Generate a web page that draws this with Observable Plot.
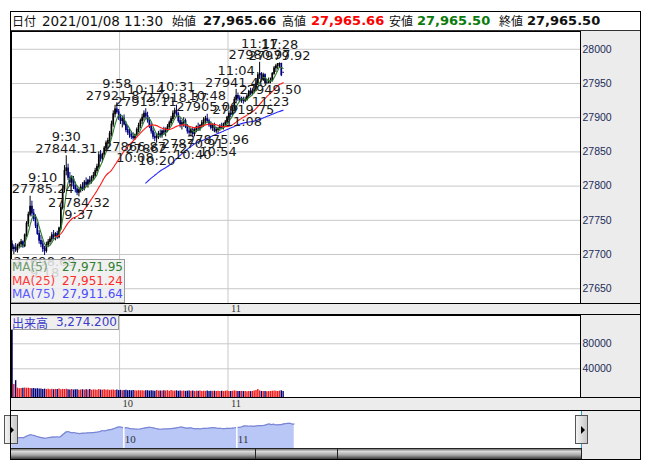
<!DOCTYPE html>
<html><head><meta charset="utf-8">
<script src="https://cdn.jsdelivr.net/npm/d3@7"></script>
<script src="https://cdn.jsdelivr.net/npm/@observablehq/plot@0.6"></script>
<style>
body{margin:0;background:#fff;}
#root{position:relative;width:653px;height:470px;overflow:hidden;font-family:"DejaVu Sans",sans-serif;}
#root>*{position:absolute;}
.cjk{font-family:"Noto Sans CJK JP",sans-serif;}
</style></head><body><div id="root"></div>
<script>
// ---------------- DATA ----------------
const sessionStart = "9:00";
const opens = [27715,27708,27710,27706,27712,27715,27718,27712,27728,27745,
27758,27770,27760,27752,27742,27730,27720,27715,27708,27705,
27714,27718,27722,27728,27726,27730,27725,27738,27768,27795,
27822,27826,27812,27805,27810,27800,27795,27790,27794,27798,
27796,27805,27802,27808,27806,27812,27815,27822,27828,27845,
27840,27846,27855,27862,27866,27876,27890,27905,27912,27908,
27900,27895,27898,27890,27882,27878,27875,27872,27870,27874,
27882,27888,27895,27900,27906,27902,27896,27888,27880,27872,
27870,27872,27876,27874,27880,27878,27883,27886,27892,27898,
27906,27910,27905,27895,27890,27892,27895,27886,27880,27878,
27882,27876,27882,27886,27884,27888,27892,27896,27898,27895,
27889,27885,27888,27880,27882,27884,27887,27885,27890,27893,
27900,27906,27904,27912,27926,27932,27928,27925,27927,27924,
27926,27931.25,27938,27936,27938,27940,27950,27962,27964,27955,
27962,27950,27950,27953,27954,27964,27972,27975,27978.5,27978.75,
27965.66];
const highs = [27720,27714,27716,27715,27718,27722,27720,27730,27748,27762,
27785.24,27778,27766,27758,27746,27735,27728,27720,27712,27718,
27722,27726,27732,27735,27732,27734,27740,27772,27800,27830,
27844.31,27832,27820,27815,27814,27806,27800,27796,27802,27805,
27808,27812,27810,27814,27815,27820,27826,27832,27850,27852,
27848,27858,27866,27870,27880,27895,27910,27918,27921.87,27912,
27905,27902,27904,27894,27888,27884,27880,27878,27876,27885,
27892,27898,27905,27910,27913.11,27908,27900,27892,27885,27878,
27876,27880,27882,27882,27886,27885,27890,27895,27902,27910,
27914,27918.37,27908,27900,27896,27900,27898,27890,27885,27884,
27886,27884,27888,27892,27890,27896,27900,27902,27905.06,27898,
27894,27890,27892,27886,27886,27890,27892,27892,27896,27902,
27910,27912,27915,27930,27941.40,27936,27932,27930,27930,27930,
27935,27940,27943,27942,27946,27955,27966,27980.97,27966,27965,
27964,27956,27958,27958,27966,27975,27978,27979,27979.92,27979.5,
27965.66];
const lows = [27704,27700,27703,27702,27708,27710,27709,27710,27725,27740,
27755,27755,27748,27738,27728,27715,27710,27703,27698.69,27702,
27710,27714,27718,27722,27720,27722,27723,27735,27765,27790,
27815,27808,27800,27798,27795,27790,27786,27784.32,27790,27792,
27793,27798,27797,27802,27803,27808,27812,27818,27825,27835,
27834,27842,27850,27855,27862,27872,27886,27900,27905,27896,
27890,27885,27888,27878,27874,27870,27868,27867,27866.87,27872,
27878,27884,27890,27895,27898,27892,27884,27876,27868,27865,
27862.72,27868,27870,27870,27874,27872,27878,27882,27888,27894,
27900,27902,27892,27885,27882,27886,27884,27876,27872,27872,
27870.91,27872,27878,27880,27880,27884,27886,27890,27892,27886,
27882,27880,27878,27877,27875.96,27880,27883,27882,27886,27890,
27896,27900,27902,27910,27922,27924,27922,27921,27919.75,27922,
27924,27928,27932,27932,27935,27938,27948,27956,27952,27953,
27950,27950,27950,27949.50,27952,27962,27966,27970,27972,27960,
27965.50];
const closes = [27708,27710,27706,27712,27715,27718,27712,27728,27745,27758,
27770,27760,27752,27742,27730,27720,27715,27708,27705,27714,
27718,27722,27728,27726,27730,27725,27738,27768,27795,27822,
27826,27812,27805,27810,27800,27795,27790,27794,27798,27796,
27805,27802,27808,27806,27812,27815,27822,27828,27845,27840,
27846,27855,27862,27866,27876,27890,27905,27912,27908,27900,
27895,27898,27890,27882,27878,27875,27872,27870,27874,27882,
27888,27895,27900,27906,27902,27896,27888,27880,27872,27870,
27872,27876,27874,27880,27878,27883,27886,27892,27898,27906,
27910,27905,27895,27890,27892,27895,27886,27880,27878,27882,
27876,27882,27886,27884,27888,27892,27896,27898,27895,27889,
27885,27888,27880,27882,27884,27887,27885,27890,27893,27900,
27906,27904,27912,27926,27932,27928,27925,27927,27924,27926,
27931.25,27938,27936,27938,27940,27950,27962,27964,27955,27962,
27950,27950,27953,27954,27964,27972,27975,27978.5,27978.75,27962,
27965.50];
const volumes = [130000,15000,21000,9000,8000,8500,9000,9200,8800,9000,
8500,8000,8600,7800,8200,7600,7800,7000,7500,6800,
7200,6600,7400,6500,7000,6800,7600,6400,7000,6800,
7200,6600,6200,6900,6000,6400,6600,5800,6200,6500,
5900,6400,6000,7000,5600,6200,6000,5800,6800,6000,
5800,6300,5600,6000,5500,5800,6200,5400,5900,5200,
5600,5000,5400,5800,5000,5200,4800,5300,5000,4600,
5000,4800,5000,4500,4700,5000,4400,4800,4600,4200,
5200,4400,4600,4300,4800,4500,5000,4200,5400,4600,
4300,4800,4000,4400,4200,4600,3900,4300,4500,4000,
4400,3800,4200,4000,4500,3800,4100,3900,4400,3700,
4000,3800,4200,3600,3900,3700,4100,3600,3900,4300,
3800,3600,4000,4600,4200,3700,3500,3900,3600,3800,
3400,3700,3500,3900,4400,5200,6800,4600,3800,3500,
3700,3300,3600,3800,4000,4600,4200,3800,4400,4800,
3600];
const peakTimes  = ["9:10","9:30","9:58","10:14","10:31","10:48","11:04","11:17","11:28"];
const peakValues = ["27785.24","27844.31","27921.87","27913.11","27918.37","27905.06","27941.40","27980.97","27979.92"];
const troughTimes  = ["9:18","9:37","10:08","10:20","10:40","10:54","11:08","11:23"];
const troughValues = ["27698.69","27784.32","27866.87","27862.72","27870.91","27875.96","27919.75","27949.50"];
const priceTicks = [27650,27700,27750,27800,27850,27900,27950,28000];
const volumeTicks = [40000,80000];
const hourTicks = ["10","11"];
const maNames = ["MA(5)","MA(25)","MA(75)"];
const maPeriods = [5,25,75];
const maLegendValues = ["27,971.95","27,951.24","27,911.64"];
const volumeLabel = "出来高";
const volumeLegendValue = "3,274.200";
const headerLabels = ["日付","始値","高値","安値","終値"];
const headerDate = "2021/01/08 11:30";
const headerValues = ["27,965.66","27,965.66","27,965.50","27,965.50"];

// ---------------- HELPERS ----------------
const toMin = t => { const [h, m] = t.split(":").map(Number); const [h0, m0] = sessionStart.split(":").map(Number); return (h - h0) * 60 + (m - m0); };
const hourMin = hourTicks.map(h => toMin(h + ":00") - 0.5);   // slot boundary (left edge of the hour's first bar)
const rows = opens.map((o, i) => ({m: i, o, h: highs[i], l: lows[i], c: closes[i], v: volumes[i], up: closes[i] >= o}));
const maColors = ["#2f7f2f", "#ff1a1a", "#2a2aff"];
const maSeries = maPeriods.map(k => rows.slice(k - 1).map(d => ({m: d.m, v: d3.mean(closes.slice(d.m - k + 1, d.m + 1))})));
const xDomain = [-0.3, 314.55];
const pxPerMin = 569 / (xDomain[1] - xDomain[0]);
// keep a label block inside the frame: shift its centre right when it would cross the left edge
const labelX = d => Math.max(d.m, xDomain[0] + (d.s.length * 3.9) / pxPerMin);
const peaks = peakTimes.map((t, i) => ({m: toMin(t), t, p: +peakValues[i], s: peakValues[i]}));
const troughs = troughTimes.map((t, i) => ({m: toMin(t), t, p: +troughValues[i], s: troughValues[i]}));

const root = document.getElementById("root");
function box(css, html = "", cls = "") { const d = document.createElement("div"); d.style.cssText = css; d.innerHTML = html; if (cls) d.className = cls; root.appendChild(d); return d; }
function place(el, left, top) { el.style.position = "absolute"; el.style.left = left + "px"; el.style.top = top + "px"; root.appendChild(el); }

const GRID = "#c8c8c8", PANEL = "#ececec";
// backgrounds
box(`left:580px;top:31px;width:61px;height:429px;background:${PANEL};`);
box(`left:10px;top:303px;width:631px;height:12px;background:${PANEL};border-top:1px solid #000;border-bottom:1px solid #000;box-sizing:border-box;`);
box(`left:10px;top:397px;width:631px;height:14px;background:${PANEL};border-top:1px solid #000;border-bottom:1px solid #000;box-sizing:border-box;`);

// ---------------- MAIN PRICE CHART ----------------
const textFont = "DejaVu Sans";
const annot = (data, field, dy) => Plot.text(data, {x: labelX, y: "p", text: field, dy, fontSize: 13, fontFamily: textFont, fill: "#1a1a1a"});
const main = Plot.plot({
  width: 631, height: 285, marginLeft: 1, marginRight: 61, marginTop: 0, marginBottom: 13,
  style: {background: "transparent", overflow: "visible", fontFamily: "Liberation Sans"},
  x: {domain: xDomain},
  y: {domain: [27628.4, 28026]},
  color: {type: "identity"},
  marks: [
    Plot.ruleY(priceTicks, {stroke: GRID}),
    Plot.ruleX(hourMin, {stroke: GRID}),
    Plot.ruleX(rows, {x: "m", y1: "l", y2: "h", stroke: d => d.up ? "#000000" : "#00007f", strokeWidth: 1, clip: true}),
    Plot.ruleX(rows, {x: "m", y1: d => Math.min(d.o, d.c) - 0.6, y2: d => Math.max(d.o, d.c) + 0.6, stroke: d => d.up ? "#000000" : "#00007f", strokeWidth: 1.7, clip: true}),
    ...maSeries.map((s, i) => Plot.lineY(s, {x: "m", y: "v", stroke: maColors[i], strokeWidth: 1.1, curve: "monotone-x", clip: true})),
    annot(peaks, "t", -18.5),
    annot(peaks, "s", -7),
    annot(troughs, "s", 6),
    annot(troughs, "t", 17.7),
    Plot.axisY(priceTicks, {anchor: "right", tickSize: 0, tickPadding: 2, tickFormat: d3.format("d"), fontSize: 10.5, fill: "#1c2b5a", label: null}),
    Plot.axisX(hourMin, {anchor: "bottom", tickSize: 0, tickPadding: 1, tickFormat: (d, i) => hourTicks[i], textAnchor: "start", dx: 3, fontSize: 10.5, fill: "#333", fontFamily: "Liberation Serif", label: null}),
    Plot.frame({stroke: "#000"})
  ]
});
place(main, 10, 31);

// ---------------- VOLUME CHART ----------------
const volDomain = [-5920, 125280];
const vol = Plot.plot({
  width: 631, height: 95, marginLeft: 1, marginRight: 61, marginTop: 0, marginBottom: 13,
  style: {background: "transparent", overflow: "visible", fontFamily: "Liberation Sans"},
  x: {domain: xDomain},
  y: {domain: volDomain},
  color: {type: "identity"},
  marks: [
    Plot.ruleY(volumeTicks, {stroke: GRID}),
    Plot.ruleX(hourMin, {stroke: GRID}),
    Plot.ruleX(rows, {x: "m", y1: () => volDomain[0], y2: "v", stroke: d => d.up ? "#f01818" : "#00007a", strokeWidth: 1.4, clip: true}),
    Plot.axisY(volumeTicks, {anchor: "right", tickSize: 0, tickPadding: 2, tickFormat: d3.format("d"), fontSize: 10.5, fill: "#1c2b5a", label: null}),
    Plot.axisX(hourMin, {anchor: "bottom", tickSize: 0, tickPadding: 2, tickFormat: (d, i) => hourTicks[i], textAnchor: "start", dx: 3, fontSize: 10.5, fill: "#333", fontFamily: "Liberation Serif", label: null}),
    Plot.frame({stroke: "#000"})
  ]
});
place(vol, 10, 315);

// ---------------- NAVIGATOR ----------------
const navDomain = [27516.5, 28195.4];
const nav = Plot.plot({
  width: 572, height: 37, margin: 0,
  style: {background: "#fff", overflow: "hidden"},
  x: {domain: [-0.69, 303.1], axis: null},
  y: {domain: navDomain, axis: null},
  marks: [
    Plot.areaY(rows, {x: "m", y1: () => navDomain[0], y2: "c", fill: "#b9c7f7", curve: "monotone-x"}),
    Plot.lineY(rows, {x: "m", y: "c", stroke: "#7a85d4", strokeWidth: 1.2, curve: "monotone-x"}),
    Plot.ruleX(hourMin, {stroke: "#fff", strokeWidth: 1.5}),
    Plot.text(hourMin, {x: d => d, text: (d, i) => hourTicks[i], frameAnchor: "bottom", textAnchor: "start", dx: 1, dy: -6, fontSize: 11, fontFamily: "Liberation Serif", fill: "#333"})
  ]
});
place(nav, 10, 411);
box(`left:581px;top:411px;width:1px;height:37px;background:#999;`);

// buttons & range marks
for (const [l, w] of [[4, 14], [575, 13]]) {
  box(`left:${l}px;top:415px;width:${w}px;height:29px;box-sizing:border-box;border:1px solid #555;background:linear-gradient(to right,#f4f4f4,#c8c8c8);`,
    `<div style="position:absolute;left:${w/2-2}px;top:10px;width:0;height:0;border-top:4px solid transparent;border-bottom:4px solid transparent;border-left:4px solid #000;"></div>`);
}
for (const x of [10, 581]) {
  box(`left:${x}px;top:411px;width:1px;height:4px;background:#2aa3d8;`);
  box(`left:${x}px;top:444px;width:1px;height:4px;background:#2aa3d8;`);
}
// scrollbar
box(`left:10px;top:448px;width:572px;height:12px;box-sizing:border-box;border:1px solid #222;background:linear-gradient(to bottom,#777 0%,#d9d9d9 25%,#a6a6a6 60%,#3a3a3a 100%);`);
box(`left:255px;top:448px;width:1px;height:12px;background:#222;`);
box(`left:337px;top:448px;width:1px;height:12px;background:#222;`);

// ---------------- LEGENDS ----------------
const lg = box(`left:10px;top:259px;width:115px;height:44px;box-sizing:border-box;background:rgba(238,238,238,0.86);border:1px solid #9a9a9a;font-size:12px;line-height:13.5px;padding:1px 0 0 1px;font-family:'DejaVu Sans';`);
const maLabelColors = ["#6f9a6f", "#ff3a3a", "#5a5aff"];
const maValueColors = ["#2f7f2f", "#ff2a2a", "#4a4aff"];
lg.innerHTML = maNames.map((n, i) => `<div style="display:flex;justify-content:space-between;padding-right:1px;"><span style="color:${maLabelColors[i]}">${n}</span><span style="color:${maValueColors[i]}">${maLegendValues[i]}</span></div>`).join("");

box(`left:10px;top:315px;width:109px;height:15px;box-sizing:border-box;background:#efefef;border:1px solid #9a9a9a;font-size:12px;line-height:13px;color:#3b3bc8;white-space:nowrap;padding-left:1px;`,
  `<span class="cjk" style="font-size:12px;">${volumeLabel}</span><span style="position:absolute;right:1px;top:0;">${volumeLegendValue}</span>`);

// ---------------- HEADER ----------------
box(`left:10px;top:11px;width:631px;height:20px;box-sizing:border-box;border:1px solid #333;background:#fff;`);
const hdr = [
  [12, headerLabels[0], "cjk", "#111", 400],
  [42, headerDate, "", "#111", 400],
  [172, headerLabels[1], "cjk", "#111", 400],
  [203, headerValues[0], "", "#111", 700],
  [282, headerLabels[2], "cjk", "#111", 400],
  [311, headerValues[1], "", "#ff0000", 700],
  [389, headerLabels[3], "cjk", "#111", 400],
  [417, headerValues[2], "", "#0b7a0b", 700],
  [499, headerLabels[4], "cjk", "#111", 400],
  [527, headerValues[3], "", "#111", 700]
];
for (const [x, t, cls, col, w] of hdr) {
  box(`left:${x}px;top:12px;height:18px;line-height:18px;white-space:nowrap;color:${col};font-weight:${w};font-size:${cls ? 12 : (w === 700 ? 13 : 13.5)}px;`, t, cls);
}
// outer frame
box(`left:10px;top:11px;width:631px;height:449px;box-sizing:border-box;border:1px solid #000;pointer-events:none;`);
</script></body></html>
